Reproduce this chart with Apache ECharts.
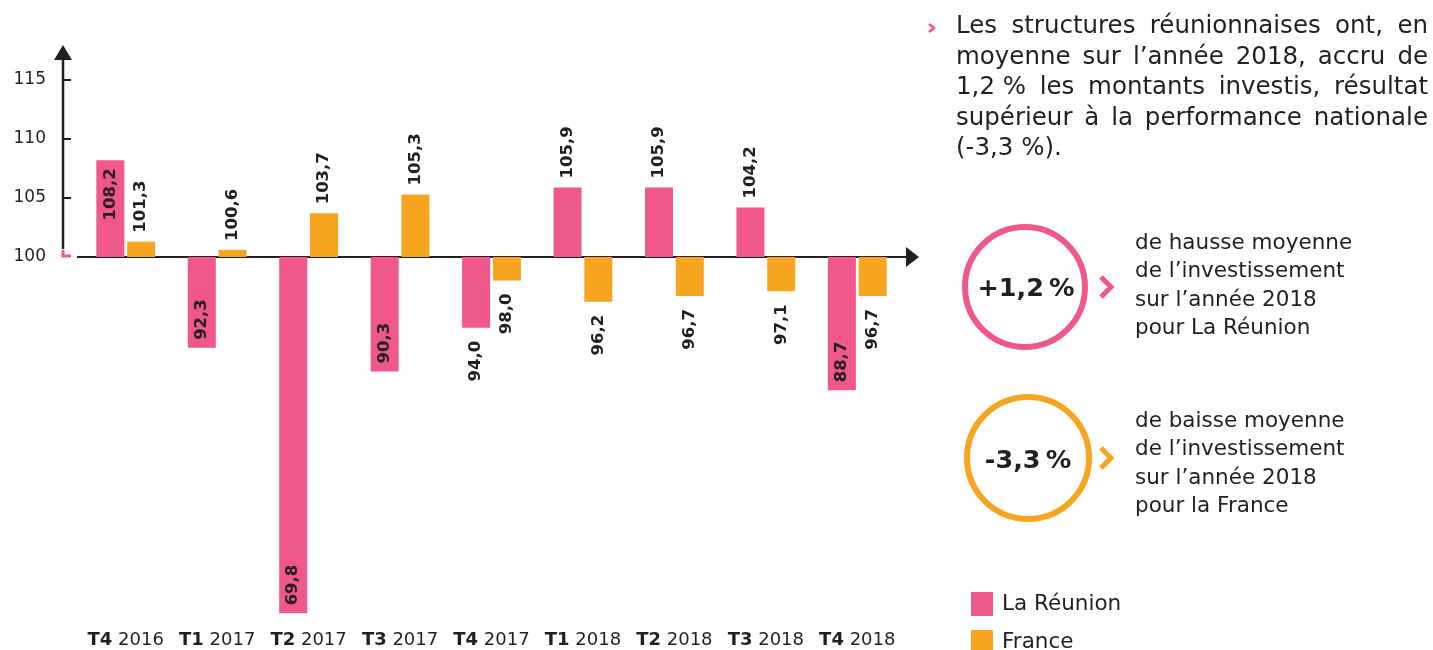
<!DOCTYPE html>
<html>
<head>
<meta charset="utf-8">
<script src="https://cdn.jsdelivr.net/npm/echarts@6/dist/echarts.min.js"></script>
<style>
  body { margin: 0; background: #fff; }
  #chart { width: 1433px; height: 650px; }
</style>
</head>
<body>
<div id="chart"></div>
<script>
  // indices base 100
  const categories = ['T4 2016', 'T1 2017', 'T2 2017', 'T3 2017', 'T4 2017', 'T1 2018', 'T2 2018', 'T3 2018', 'T4 2018']
  const reunion = [108.2, 92.3, 69.8, 90.3, 94.0, 105.9, 105.9, 104.2, 88.7]
  const france = [101.3, 100.6, 103.7, 105.3, 98.0, 96.2, 96.7, 97.1, 96.7]
  const yTicks = [100, 105, 110, 115]
  const base = 100

  const paragraph = [
    'Les structures réunionnaises ont, en',
    'moyenne sur l’année 2018, accru de',
    '1,2\u00a0% les montants investis, résultat',
    'supérieur à la performance nationale',
    '(-3,3\u00a0%).'
  ]
  const hausse = ['de hausse moyenne', 'de l’investissement', 'sur l’année 2018', 'pour La Réunion']
  const baisse = ['de baisse moyenne', 'de l’investissement', 'sur l’année 2018', 'pour la France']

  const PINK = '#f0588c'
  const ORANGE = '#f7a51f'
  const INK = '#231f20'
  const FONT = '"DejaVu Sans", sans-serif'

  const fmt = v => v.toFixed(1).replace('.', ',')

  function labelFor(d) {
    const inside = Math.abs(d) >= 7
    const l = {show: true, rotate: 90, verticalAlign: 'middle'}
    if (d >= 0) {
      Object.assign(l, inside ? {position: 'insideTop', align: 'right', distance: 8} : {position: 'top', align: 'left', distance: 9})
    } else {
      Object.assign(l, inside ? {position: 'insideBottom', align: 'left', distance: 8} : {position: 'bottom', align: 'right', distance: 13})
    }
    return l
  }

  function toData(arr) {
    return arr.map(v => {
      const d = +(v - base).toFixed(1)
      return {value: d, label: labelFor(d)}
    })
  }

  const barLabel = src => ({
    fontFamily: FONT, fontWeight: 'bold', fontSize: 16.5, color: INK,
    formatter: p => fmt(src[p.dataIndex])
  })

  const chart = echarts.init(document.getElementById('chart'))
  chart.setOption({
    animation: false,
    textStyle: {fontFamily: FONT},
    grid: {left: 80, right: 530, top: 80, bottom: 27.2},
    legend: {
      orient: 'vertical', left: 971, top: 592, height: 120, itemWidth: 22, itemHeight: 24, itemGap: 14, padding: 0,
      icon: 'rect', data: ['La Réunion', 'France'],
      textStyle: {fontFamily: FONT, fontSize: 21.5, color: INK, padding: [0, 0, 0, 4]}
    },
    xAxis: {
      type: 'category',
      data: categories,
      axisLine: {show: false},
      axisTick: {show: false},
      axisLabel: {
        interval: 0, margin: 9, fontSize: 18, color: INK,
        formatter: v => '{q|' + v.split(' ')[0] + '} {y|' + v.split(' ')[1] + '}',
        rich: {
          q: {fontFamily: FONT, fontWeight: 'bold', fontSize: 18, color: INK},
          y: {fontFamily: FONT, fontSize: 18, color: INK}
        }
      }
    },
    yAxis: {
      type: 'value', min: -31, max: 15, offset: 17,
      axisLine: {show: false},
      splitLine: {show: false},
      axisTick: {show: true, inside: true, length: 8, lineStyle: {color: INK, width: 2}, customValues: yTicks.slice(1).map(v => v - base)},
      axisLabel: {customValues: yTicks.map(v => v - base), formatter: v => String(v + base), margin: 17, fontSize: 17, color: INK}
    },
    series: [
      {name: 'La Réunion', type: 'bar', barWidth: 28, barGap: '10%', clip: false, itemStyle: {color: PINK}, label: barLabel(reunion), data: toData(reunion)},
      {name: 'France', type: 'bar', barWidth: 28, clip: false, itemStyle: {color: ORANGE}, label: barLabel(france), data: toData(france)}
    ]
  })

  // axes with arrows + side panel
  const y0 = chart.convertToPixel({yAxisIndex: 0}, 0)
  const ctx = document.createElement('canvas').getContext('2d')

  function txt(x, y, text, size, opts) {
    opts = opts || {}
    return {
      type: 'text', x: x, y: y,
      style: {
        text: text, fontFamily: FONT, fontSize: size, fontWeight: opts.bold ? 'bold' : 'normal',
        fill: INK, align: opts.align || 'left', verticalAlign: 'middle',
        textAlign: opts.align || 'left', textVerticalAlign: 'middle'
      }
    }
  }

  function justify(lines, x, y, width, lh, size) {
    const out = []
    ctx.font = size + 'px ' + FONT
    lines.forEach((line, i) => {
      const ly = y + i * lh
      const words = line.split(' ')
      if (i === lines.length - 1 || words.length < 2) {
        out.push(txt(x, ly, line, size))
        return
      }
      const widths = words.map(w => ctx.measureText(w).width)
      const gap = (width - widths.reduce((a, b) => a + b, 0)) / (words.length - 1)
      let cx = x
      words.forEach((w, j) => {
        out.push(txt(cx, ly, w, size))
        cx += widths[j] + gap
      })
    })
    return out
  }

  const g = []
  // y axis line
  g.push({type: 'line', shape: {x1: 63, y1: y0 - 8, x2: 63, y2: 58}, style: {stroke: INK, lineWidth: 2.5}})
  g.push({type: 'polygon', shape: {points: [[63, 45], [54, 60], [72, 60]]}, style: {fill: INK}})
  // break mark at 100
  g.push({type: 'polyline', shape: {points: [[63, y0 - 7], [63, y0 - 1], [71, y0 - 1]]}, style: {stroke: PINK, lineWidth: 3, fill: null}})
  // x axis line
  g.push({type: 'line', shape: {x1: 77, y1: y0, x2: 908, y2: y0}, style: {stroke: INK, lineWidth: 2}})
  g.push({type: 'polygon', shape: {points: [[919, y0], [906, y0 - 10], [906, y0 + 10]]}, style: {fill: INK}})

  // paragraph
  g.push({type: 'polyline', shape: {points: [[929, 24], [934, 28], [929, 32]]}, style: {stroke: PINK, lineWidth: 2.5, fill: null}})
  g.push(...justify(paragraph, 956, 27, 472, 30.5, 24.5))

  // circles
  g.push({type: 'circle', shape: {cx: 1025, cy: 287, r: 60}, style: {fill: null, stroke: PINK, lineWidth: 6}})
  g.push(txt(1026, 289, '+1,2\u2009%', 25.5, {bold: true, align: 'center'}))
  g.push({type: 'polyline', shape: {points: [[1101, 277], [1111, 287], [1101, 297]]}, style: {stroke: PINK, lineWidth: 5, fill: null}})
  hausse.forEach((s, i) => g.push(txt(1135, 243 + i * 28.5, s, 21.5)))

  g.push({type: 'circle', shape: {cx: 1028, cy: 458, r: 61}, style: {fill: null, stroke: ORANGE, lineWidth: 6}})
  g.push(txt(1028, 461, '-3,3\u2009%', 25.5, {bold: true, align: 'center'}))
  g.push({type: 'polyline', shape: {points: [[1101, 448], [1111, 458], [1101, 468]]}, style: {stroke: ORANGE, lineWidth: 5, fill: null}})
  baisse.forEach((s, i) => g.push(txt(1135, 421 + i * 28.5, s, 21.5)))

  chart.setOption({graphic: g})
</script>
</body>
</html>
